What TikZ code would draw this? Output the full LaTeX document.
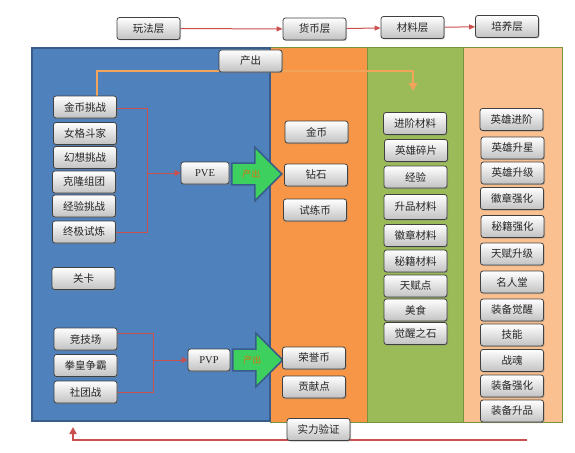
\documentclass[tikz,border=0pt]{standalone}
\usepackage{fontspec}
\setmainfont{Liberation Serif}
\newfontfamily\cjk{Noto Sans CJK SC}
\usepackage{tikz}
\usetikzlibrary{arrows.meta, shapes.arrows, shadows}
\definecolor{layerblue}{HTML}{4F81BD}
\definecolor{layerorange}{HTML}{F79646}
\definecolor{layergreen}{HTML}{9BBB59}
\definecolor{layerpeach}{HTML}{FAC090}
\definecolor{edgeblue}{HTML}{385D8A}
\definecolor{edgegreen}{HTML}{77933C}
\definecolor{linkred}{HTML}{C9504D}
\definecolor{linkorange}{HTML}{F2A45A}
\definecolor{arrowgreen}{HTML}{3DD05E}
\definecolor{outtext}{HTML}{D9700F}
\pgfdeclarelayer{panel}
\pgfdeclarelayer{link}
\pgfsetlayers{panel,link,main}
\tikzset{
  tbox/.style={draw=black!75, line width=0.8pt, rounded corners=2.5pt,
    top color=white, bottom color=black!24, text=black!85,
    minimum width=63pt, minimum height=22pt, inner sep=0pt,
    font=\cjk\fontsize{10.5}{12}\selectfont,
    drop shadow={shadow xshift=1pt, shadow yshift=-1pt, opacity=0.45}},
  modebox/.style={tbox, font=\fontsize{10.5}{12}\selectfont},
  outarrow/.style={single arrow, draw=edgeblue, line width=1.5pt,
    fill=arrowgreen, text=outtext, font=\cjk\fontsize{9}{10}\selectfont,
    single arrow head extend=16pt, minimum height=50pt,
    inner ysep=6pt, inner xsep=2pt, anchor=tail},
  redlink/.style={draw=linkred, line width=1pt},
}

\begin{document}
\begin{tikzpicture}[x=1pt, y=-1pt]
\useasboundingbox (0,0) rectangle (575,452);
\begin{pgfonlayer}{panel}
  \fill[layerblue] (32,48) rectangle (270,421);
  \fill[layerorange] (270,48) rectangle (367,422);
  \fill[layergreen] (367,48) rectangle (463,422);
  \fill[layerpeach] (463,48) rectangle (562,422);
  \draw[edgegreen, line width=1pt] (367,48) rectangle (463,422);
  \draw[edgegreen, line width=1pt] (270,48) rectangle (562,422);
  \draw[edgeblue, line width=1.2pt] (32,48) rectangle (270,421);
\end{pgfonlayer}

\node[tbox] (play) at (148.5,28.5) {玩法层};
\node[tbox] (currency) at (314.5,29) {货币层};
\node[tbox] (material) at (412.5,27.5) {材料层};
\node[tbox] (nurture) at (507,26.5) {培养层};
\node[tbox] (outtop) at (250.5,61) {产出};

\node[tbox] (gold) at (85,107) {金币挑战};
\node[tbox] (fighter) at (85,133.5) {女格斗家};
\node[tbox] (fantasy) at (85,157.5) {幻想挑战};
\node[tbox] (clone) at (84,182) {克隆组团};
\node[tbox] (exp) at (84,206) {经验挑战};
\node[tbox] (ultimate) at (84,232) {终极试炼};
\node[tbox] (stage) at (83.5,278.5) {关卡};
\node[tbox] (arena) at (85.5,339) {竞技场};
\node[tbox] (kof) at (85.5,365.5) {拳皇争霸};
\node[tbox] (club) at (85.5,392) {社团战};

\node[modebox, minimum width=48pt] (pve) at (205,173) {PVE};
\node[modebox, minimum width=42pt] (pvp) at (209,360) {PVP};
\node[outarrow] (pveout) at (231,174) {产出};
\node[outarrow] (pvpout) at (232,360) {产出};

\node[tbox] (coinA) at (316.5,132) {金币};
\node[tbox] (diamond) at (316,175) {钻石};
\node[tbox] (trialcoin) at (315,210) {试练币};
\node[tbox] (honor) at (314,358) {荣誉币};
\node[tbox] (contrib) at (314,387) {贡献点};
\node[tbox] (proof) at (318.5,429.5) {实力验证};

\node[tbox] (advmat) at (415,123.5) {进阶材料};
\node[tbox] (shard) at (416,150.5) {英雄碎片};
\node[tbox] (expmat) at (415.5,177) {经验};
\node[tbox, minimum height=25pt] (rankmat) at (415.5,207) {升品材料};
\node[tbox] (badgemat) at (415.5,235.5) {徽章材料};
\node[tbox] (bookmat) at (415.5,261) {秘籍材料};
\node[tbox] (talentpt) at (415.5,286) {天赋点};
\node[tbox] (food) at (415.5,310) {美食};
\node[tbox] (awakestone) at (415.5,333.5) {觉醒之石};

\node[tbox] (heroadv) at (511.5,119.5) {英雄进阶};
\node[tbox] (herostar) at (512.5,148) {英雄升星};
\node[tbox] (herolvl) at (512.5,173) {英雄升级};
\node[tbox] (badgeup) at (512,198.5) {徽章强化};
\node[tbox] (bookup) at (512.5,226.5) {秘籍强化};
\node[tbox] (talentup) at (512,254) {天赋升级};
\node[tbox] (hall) at (512,282) {名人堂};
\node[tbox] (equipwake) at (512,310) {装备觉醒};
\node[tbox] (skill) at (512,335) {技能};
\node[tbox] (soul) at (512,360.5) {战魂};
\node[tbox] (equipup) at (512,386) {装备强化};
\node[tbox] (equiprank) at (512,411) {装备升品};

\coordinate (pvejoin) at (147.5,173);
\coordinate (pvpjoin) at (153.5,360);
\coordinate (orangeturn) at (413,71);
\coordinate (orangeend) at (413,91);
\coordinate (backstart) at (527,440);
\coordinate (backend) at (73,427);

\begin{pgfonlayer}{link}
  \draw[redlink, -{Triangle[length=6pt, width=5pt]}] (play) -- (currency);
  \draw[redlink, -{Triangle[length=6pt, width=5pt]}] (currency) -- (material);
  \draw[redlink, -{Triangle[length=6pt, width=5pt]}] (material) -- (nurture);
  \draw[redlink] ([yshift=-1pt]gold.east) -| (pvejoin) |- (ultimate.east);
  \draw[redlink, -{Triangle[length=6pt, width=6pt]}] (pvejoin) -- (pve);
  \draw[redlink] ([yshift=6pt]arena.east) -| (pvpjoin) |- (club.east);
  \draw[redlink, -{Triangle[length=6pt, width=6pt]}] (pvpjoin) -- (pvp);
  \draw[linkorange, line width=2pt, -{Triangle[length=8pt, width=8pt]}]
    ([xshift=12pt]gold.north) |- (orangeturn) -- (orangeend);
  \draw[linkred, line width=2pt, -{Triangle[length=7pt, width=7pt]}]
    (backstart) -| (backend);
\end{pgfonlayer}
\end{tikzpicture}
\end{document}
